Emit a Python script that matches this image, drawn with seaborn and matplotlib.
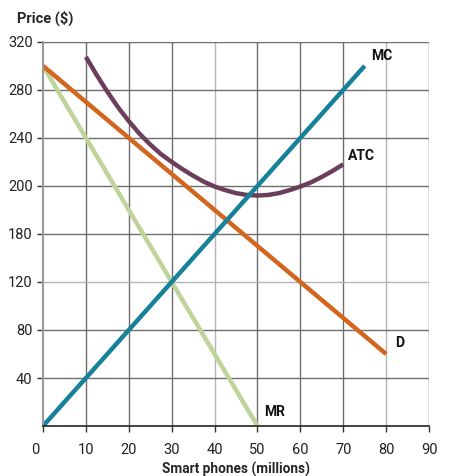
import numpy as np
import pandas as pd
import matplotlib
matplotlib.use("Agg")
import matplotlib.pyplot as plt
import matplotlib.transforms as mtransforms
import seaborn as sns

# curve data
mc_q = [0, 75]
mc_p = [0, 300]
d_q = [0, 80]
d_p = [300, 60]
mr_q = [0, 50]
mr_p = [300, 0]
atc_q = [10, 12.5, 15, 17.5, 20, 22.5, 25, 27.5, 30, 32.5, 35, 37.5, 40,
         42.5, 45, 47.5, 50, 52.5, 55, 57.5, 60, 62.5, 65, 67.5, 70]
atc_p = [307.5, 292.5, 278.5, 265.5, 254, 243.5, 234.5, 226.5, 220, 214, 208.5, 203.5, 199.5,
         196.5, 194, 192.5, 192, 192.5, 194, 196.5, 199.5, 203, 207.5, 212.5, 218]

x_ticks = [0, 10, 20, 30, 40, 50, 60, 70, 80, 90]
y_ticks = [40, 80, 120, 160, 200, 240, 280, 320]
y_tick_labels = ["40", "80", "120", "180", "200", "240", "280", "320"]

sns.set_style("white")
plt.rcParams["font.family"] = ["Roboto", "DejaVu Sans"]

fig = plt.figure(figsize=(4.64, 4.76), dpi=100)
ax = fig.add_axes([0.0927, 0.105, 0.8319, 0.807])

# grid
for x in x_ticks[1:]:
    c = "#b5b5b5" if x in (40, 80) else "#6e6e6e"
    ax.axvline(x, color=c, lw=1, zorder=0)
for y in y_ticks:
    c = "#b5b5b5" if y == 120 else "#6e6e6e"
    ax.axhline(y, color=c, lw=1, zorder=0)

kw = dict(lw=3.2, solid_capstyle="butt", solid_joinstyle="round")
sns.lineplot(x=mr_q, y=mr_p, ax=ax, color="#bfd49a", **kw)
sns.lineplot(x=d_q, y=d_p, ax=ax, color="#d2661f", **kw)
sns.lineplot(x=atc_q, y=atc_p, ax=ax, color="#6b3e5b", **kw)
sns.lineplot(x=mc_q, y=mc_p, ax=ax, color="#17819a", **kw)

ax.set_xlim(0, 90)
ax.set_ylim(0, 320)
ax.set_xticks(x_ticks)
ax.set_yticks(y_ticks)
ax.set_yticklabels(y_tick_labels)
ax.tick_params(axis="both", labelsize=10.5, length=4, width=1, color="#333333",
               bottom=True, left=True, labelcolor="#222222")
ax.tick_params(axis="x", pad=8)

# the "0" sits a little left of the origin
zero = ax.get_xticklabels()[0]
zero.set_transform(zero.get_transform() +
                   mtransforms.ScaledTranslation(-8 / 100, 0, fig.dpi_scale_trans))

for side in ["top", "right"]:
    ax.spines[side].set_visible(False)
ax.spines["left"].set_color("#9a9a9a")
ax.spines["left"].set_linewidth(1.5)
ax.spines["bottom"].set_color("#222222")
ax.spines["bottom"].set_linewidth(1.2)

ax.set_xlabel("Smart phones (millions)", fontsize=9.8, fontweight="bold", labelpad=4)
fig.text(0.037, 0.962, "Price ($)", fontsize=10.5, fontweight="bold", va="center")

lab = dict(fontsize=10, fontweight="bold", color="#111111")
ax.text(76.5, 305, "MC", **lab)
ax.text(71, 222, "ATC", **lab)
ax.text(82, 66, "D", **lab)
ax.text(51.5, 8, "MR", **lab)

plt.savefig("out.png", dpi=100)
